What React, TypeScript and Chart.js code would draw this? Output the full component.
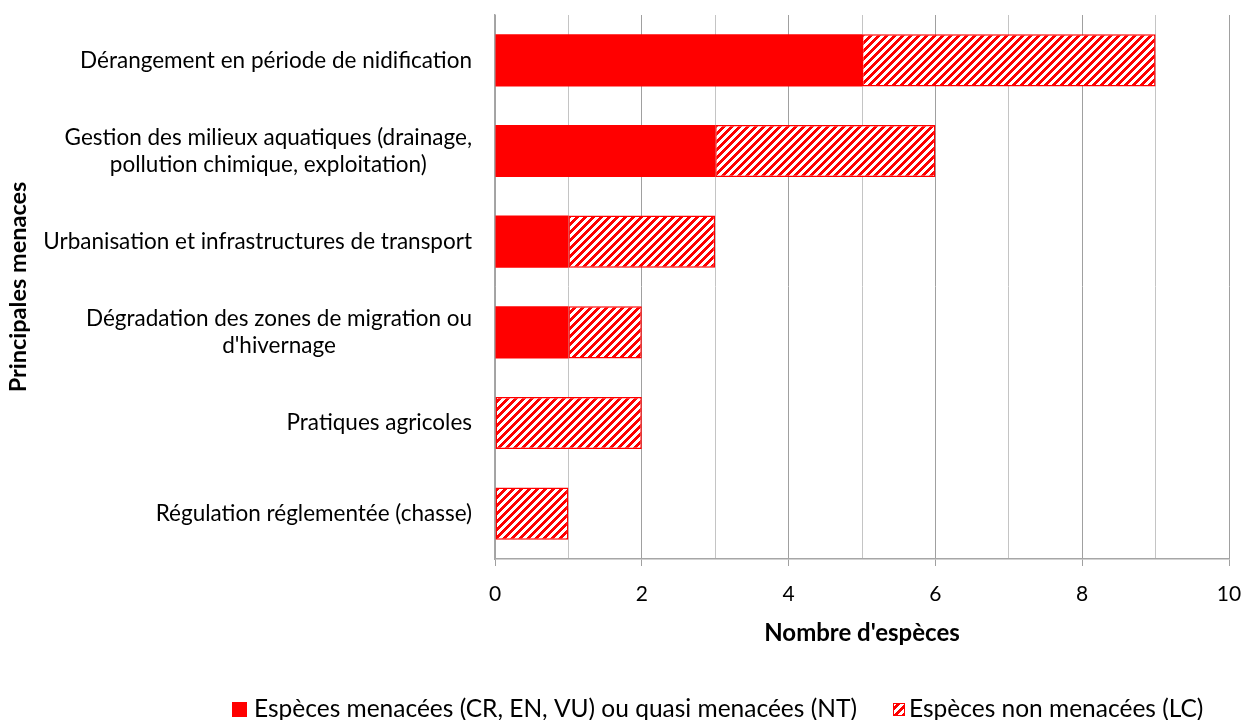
import React, { useEffect, useRef } from "react";
import { Chart, registerables } from "chart.js";

Chart.register(...registerables);

const categories: string[][] = [
  ["Dérangement en période de nidification"],
  ["Gestion des milieux aquatiques (drainage,", "pollution chimique, exploitation)"],
  ["Urbanisation et infrastructures de transport"],
  ["Dégradation des zones de migration ou", "d'hivernage"],
  ["Pratiques agricoles"],
  ["Régulation réglementée (chasse)"],
];
const threatened = [5, 3, 1, 1, 0, 0];
const notThreatened = [4, 3, 2, 1, 2, 1];
const seriesNames = [
  "Espèces menacées (CR, EN, VU) ou quasi menacées (NT)",
  "Espèces non menacées (LC)",
];
const xAxisTitle = "Nombre d'espèces";
const yAxisTitle = "Principales menaces";
const xMin = 0;
const xMax = 10;

const FONT = "Lato, 'Open Sans', sans-serif";
const RED = "#ff0000";

function makeHatch(): CanvasPattern {
  const c = document.createElement("canvas");
  c.width = 8;
  c.height = 8;
  const g = c.getContext("2d")!;
  const img = g.createImageData(8, 8);
  for (let y = 0; y < 8; y++) {
    for (let x = 0; x < 8; x++) {
      const i = (y * 8 + x) * 4;
      const red = (x + y) % 8 < 4;
      img.data[i] = 255;
      img.data[i + 1] = red ? 0 : 255;
      img.data[i + 2] = red ? 0 : 255;
      img.data[i + 3] = 255;
    }
  }
  g.putImageData(img, 0, 0);
  return g.createPattern(c, "repeat")!;
}

export default function App() {
  const ref = useRef<HTMLCanvasElement>(null);

  useEffect(() => {
    const canvas = ref.current!;
    const hatch = makeHatch();

    const labelPlugin = {
      id: "yCatLabels",
      afterDraw(chart: any) {
        const ctx = chart.ctx as CanvasRenderingContext2D;
        const ys = chart.scales.y;
        ctx.save();
        ctx.fillStyle = "#000";
        ctx.font = `22.5px ${FONT}`;
        ctx.textBaseline = "middle";
        ctx.textAlign = "center";
        const right = ys.right - 23;
        const lh = 27;
        categories.forEach((lines, i) => {
          const cy = ys.getPixelForValue(i);
          const maxW = Math.max(...lines.map((l) => ctx.measureText(l).width));
          lines.forEach((l, j) => {
            const y = cy + (j - (lines.length - 1) / 2) * lh;
            ctx.fillText(l, right - maxW / 2, y);
          });
        });
        ctx.restore();
      },
    };

    const legendPlugin = {
      id: "customLegend",
      afterDraw(chart: any) {
        const ctx = chart.ctx as CanvasRenderingContext2D;
        ctx.save();
        ctx.font = `24.5px ${FONT}`;
        ctx.textBaseline = "middle";
        ctx.textAlign = "left";
        const y = 709;
        ctx.fillStyle = RED;
        ctx.fillRect(232, 702, 15, 15);
        ctx.fillStyle = "#000";
        ctx.fillText(seriesNames[0], 254, y);
        ctx.fillStyle = hatch;
        ctx.fillRect(893, 703, 12, 13);
        ctx.strokeStyle = RED;
        ctx.lineWidth = 1;
        ctx.strokeRect(893.5, 703.5, 11, 12);
        ctx.fillStyle = "#000";
        ctx.fillText(seriesNames[1], 909, y);
        ctx.restore();
      },
    };

    const chart = new Chart(canvas, {
      type: "bar",
      data: {
        labels: categories,
        datasets: [
          {
            label: seriesNames[0],
            data: threatened,
            backgroundColor: RED,
            borderWidth: 0,
          },
          {
            label: seriesNames[1],
            data: notThreatened,
            backgroundColor: hatch as any,
            borderColor: RED,
            borderWidth: 1.5,
            borderSkipped: false,
          },
        ],
      },
      options: {
        indexAxis: "y",
        animation: false,
        responsive: false,
        maintainAspectRatio: false,
        layout: { padding: { top: 15, right: 16, bottom: 0, left: 0 } },
        datasets: {
          bar: { barPercentage: 0.575, categoryPercentage: 1 },
        },
        plugins: {
          legend: { display: false },
          tooltip: { enabled: false },
          title: { display: false },
        },
        scales: {
          x: {
            type: "linear",
            stacked: true,
            min: xMin,
            max: xMax,
            afterFit(scale: any) {
              scale.height = 161;
              scale.paddingLeft = 0;
              scale.paddingRight = 0;
            },
            ticks: {
              stepSize: 1,
              color: "#000",
              font: { family: FONT, size: 21 },
              padding: 16,
              maxRotation: 0,
              autoSkip: false,
              callback: (v: any) => (Number(v) % 2 === 0 ? String(v) : ""),
            },
            grid: {
              display: true,
              drawOnChartArea: true,
              drawTicks: true,
              tickLength: 7,
              lineWidth: 1,
              color: (ctx: any) =>
                ctx.tick && ctx.tick.value % 2 === 0 ? "#a0a0a0" : "#c4c4c4",
              tickColor: (ctx: any) =>
                ctx.tick && ctx.tick.value % 2 === 0 ? "#a0a0a0" : "rgba(0,0,0,0)",
            },
            border: { display: true, color: "#a6a6a6", width: 1.5 },
            title: {
              display: true,
              text: xAxisTitle,
              color: "#000",
              font: { family: FONT, size: 24, weight: "bold" },
              padding: { top: 0, bottom: 72 },
            },
          },
          y: {
            type: "category",
            stacked: true,
            offset: true,
            afterFit(scale: any) {
              scale.width = 495;
            },
            ticks: { display: false },
            grid: { display: false, drawTicks: false },
            border: { display: true, color: "#a6a6a6", width: 1.5 },
            title: {
              display: true,
              text: yAxisTitle,
              color: "#000",
              font: { family: FONT, size: 23.5, weight: "bold" },
              padding: { top: 4, bottom: 0 },
            },
          },
        },
      },
      plugins: [labelPlugin, legendPlugin],
    } as any);

    return () => chart.destroy();
  }, []);

  return (
    <div
      style={{
        position: "fixed",
        left: 0,
        top: 0,
        width: 1245,
        height: 720,
        background: "#fff",
      }}
    >
      <canvas ref={ref} width={1245} height={720} style={{ display: "block" }} />
    </div>
  );
}
